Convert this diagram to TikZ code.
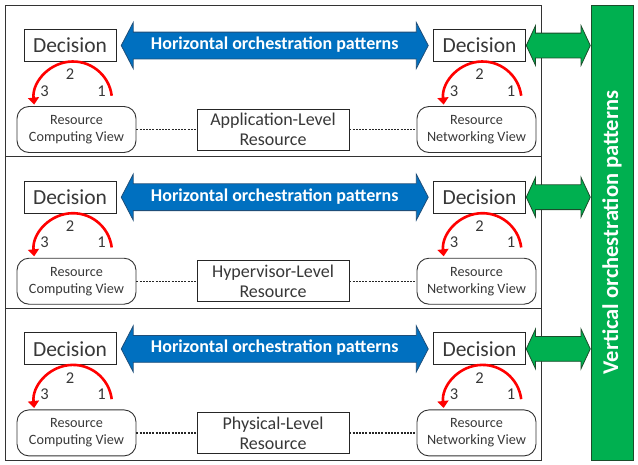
\documentclass[tikz,border=0pt]{standalone}
\usepackage{fontspec}
\setmainfont{Carlito}
\usetikzlibrary{arrows.meta,positioning,calc,shapes.arrows}

\definecolor{txtgray}{HTML}{383838}
\definecolor{hblue}{HTML}{0070C0}
\definecolor{hblueline}{HTML}{1F4E79}
\definecolor{vgreen}{HTML}{00B050}
\definecolor{vgreenline}{HTML}{1B4D2B}
\definecolor{loopred}{HTML}{FF0000}

\begin{document}
\begin{tikzpicture}[x=1pt, y=-1pt, >=Stealth,
    layer/.style={draw=black!80, line width=1pt, minimum width=536pt, minimum height=151.7pt, inner sep=0pt},
    decision/.style={draw=black!85, line width=0.9pt, fill=white, minimum width=92pt, minimum height=32pt, inner sep=0pt, text=txtgray, font=\fontsize{21.5}{24}\selectfont},
    view/.style={draw=black!80, line width=0.9pt, rounded corners=12pt, minimum width=119pt, minimum height=46pt, inner sep=0pt, align=center, text=txtgray, font=\fontsize{14.2}{17}\selectfont},
    level/.style={draw=black!85, line width=0.9pt, fill=white, minimum width=152pt, minimum height=41pt, inner sep=0pt, align=center, text=txtgray, font=\fontsize{18}{20}\selectfont},
    hpat/.style={double arrow, double arrow head extend=9.5pt, double arrow tip angle=125, minimum height=307pt, fill=hblue, draw=hblueline, line width=0.8pt, text=white, inner xsep=4pt, inner ysep=6pt, text height=11pt, text depth=3pt, font=\bfseries\fontsize{18}{20}\selectfont},
    vpat/.style={double arrow, double arrow head extend=7.5pt, double arrow tip angle=130, minimum height=64pt, fill=vgreen, draw=vgreenline, line width=0.8pt, inner xsep=0pt, inner ysep=12pt},
    vbar/.style={draw=vgreenline, line width=0.8pt, fill=vgreen, minimum width=42pt, minimum height=455pt, inner sep=0pt, text=white, font=\bfseries\fontsize{22.5}{24}\selectfont},
    link/.style={draw=black!85, line width=1.3pt, dash pattern=on 2pt off 1.2pt},
    loopline/.style={draw=loopred, line width=2.6pt, -{Triangle[width=11pt,length=7pt]}},
    stepnum/.style={inner sep=0pt, text=txtgray, font=\fontsize{16.5}{18}\selectfont}]
  \useasboundingbox (0,0) rectangle (638,464);

  % vertical patterns bar on the right
  \node[vbar] (bar) at (612, 232.5) {\rotatebox{90}{Vertical orchestration patterns}};

  % one band per resource level
  \foreach \lvl [count=\i from 0] in {Application, Hypervisor, Physical} {
    \pgfmathsetmacro\dy{151.7*\i}
    \node[layer] (layer\i) at (273, 81+\dy) {};

    \node[decision] (dl\i) at (70, 45.5+\dy) {Decision};
    \node[decision] (dr\i) at (479.5, 45.5+\dy) {Decision};
    \node[hpat] (hp\i) at ($(dl\i.east)!0.5!(dr\i.west)$) {Horizontal orchestration patterns};
    \node[vpat] (vp\i) at ($(dr\i.east)!0.5!(bar.west |- dr\i.east)$) {};

    \node[view] (rc\i) at (76.5, 129.5+\dy) {Resource\\Computing View};
    \node[level] (lv\i) at (273, 129.5+\dy) {\lvl-Level\\Resource};
    \node[view] (rn\i) at (476.5, 129.5+\dy) {Resource\\Networking View};
    \draw[link] (rc\i.east) -- (lv\i.west);
    \draw[link] (lv\i.east) -- (rn\i.west);

    % decision loops, steps 1-2-3
    \draw[loopline] ([xshift=41.7pt,yshift=-33.8pt]dl\i.south) arc[start angle=7, end angle=186, radius=39pt];
    \draw[loopline] ([xshift=41.7pt,yshift=-33.8pt]dr\i.south) arc[start angle=7, end angle=186, radius=39pt];
    \node[stepnum] (sl1\i) at ([xshift=31.5pt,yshift=-29pt]dl\i.south) {1};
    \node[stepnum] (sl2\i) at ([yshift=-12.5pt]dl\i.south) {2};
    \node[stepnum] (sl3\i) at ([xshift=-25.5pt,yshift=-29pt]dl\i.south) {3};
    \node[stepnum] (sr1\i) at ([xshift=31.5pt,yshift=-29pt]dr\i.south) {1};
    \node[stepnum] (sr2\i) at ([yshift=-12.5pt]dr\i.south) {2};
    \node[stepnum] (sr3\i) at ([xshift=-25.5pt,yshift=-29pt]dr\i.south) {3};
  }
\end{tikzpicture}
\end{document}
